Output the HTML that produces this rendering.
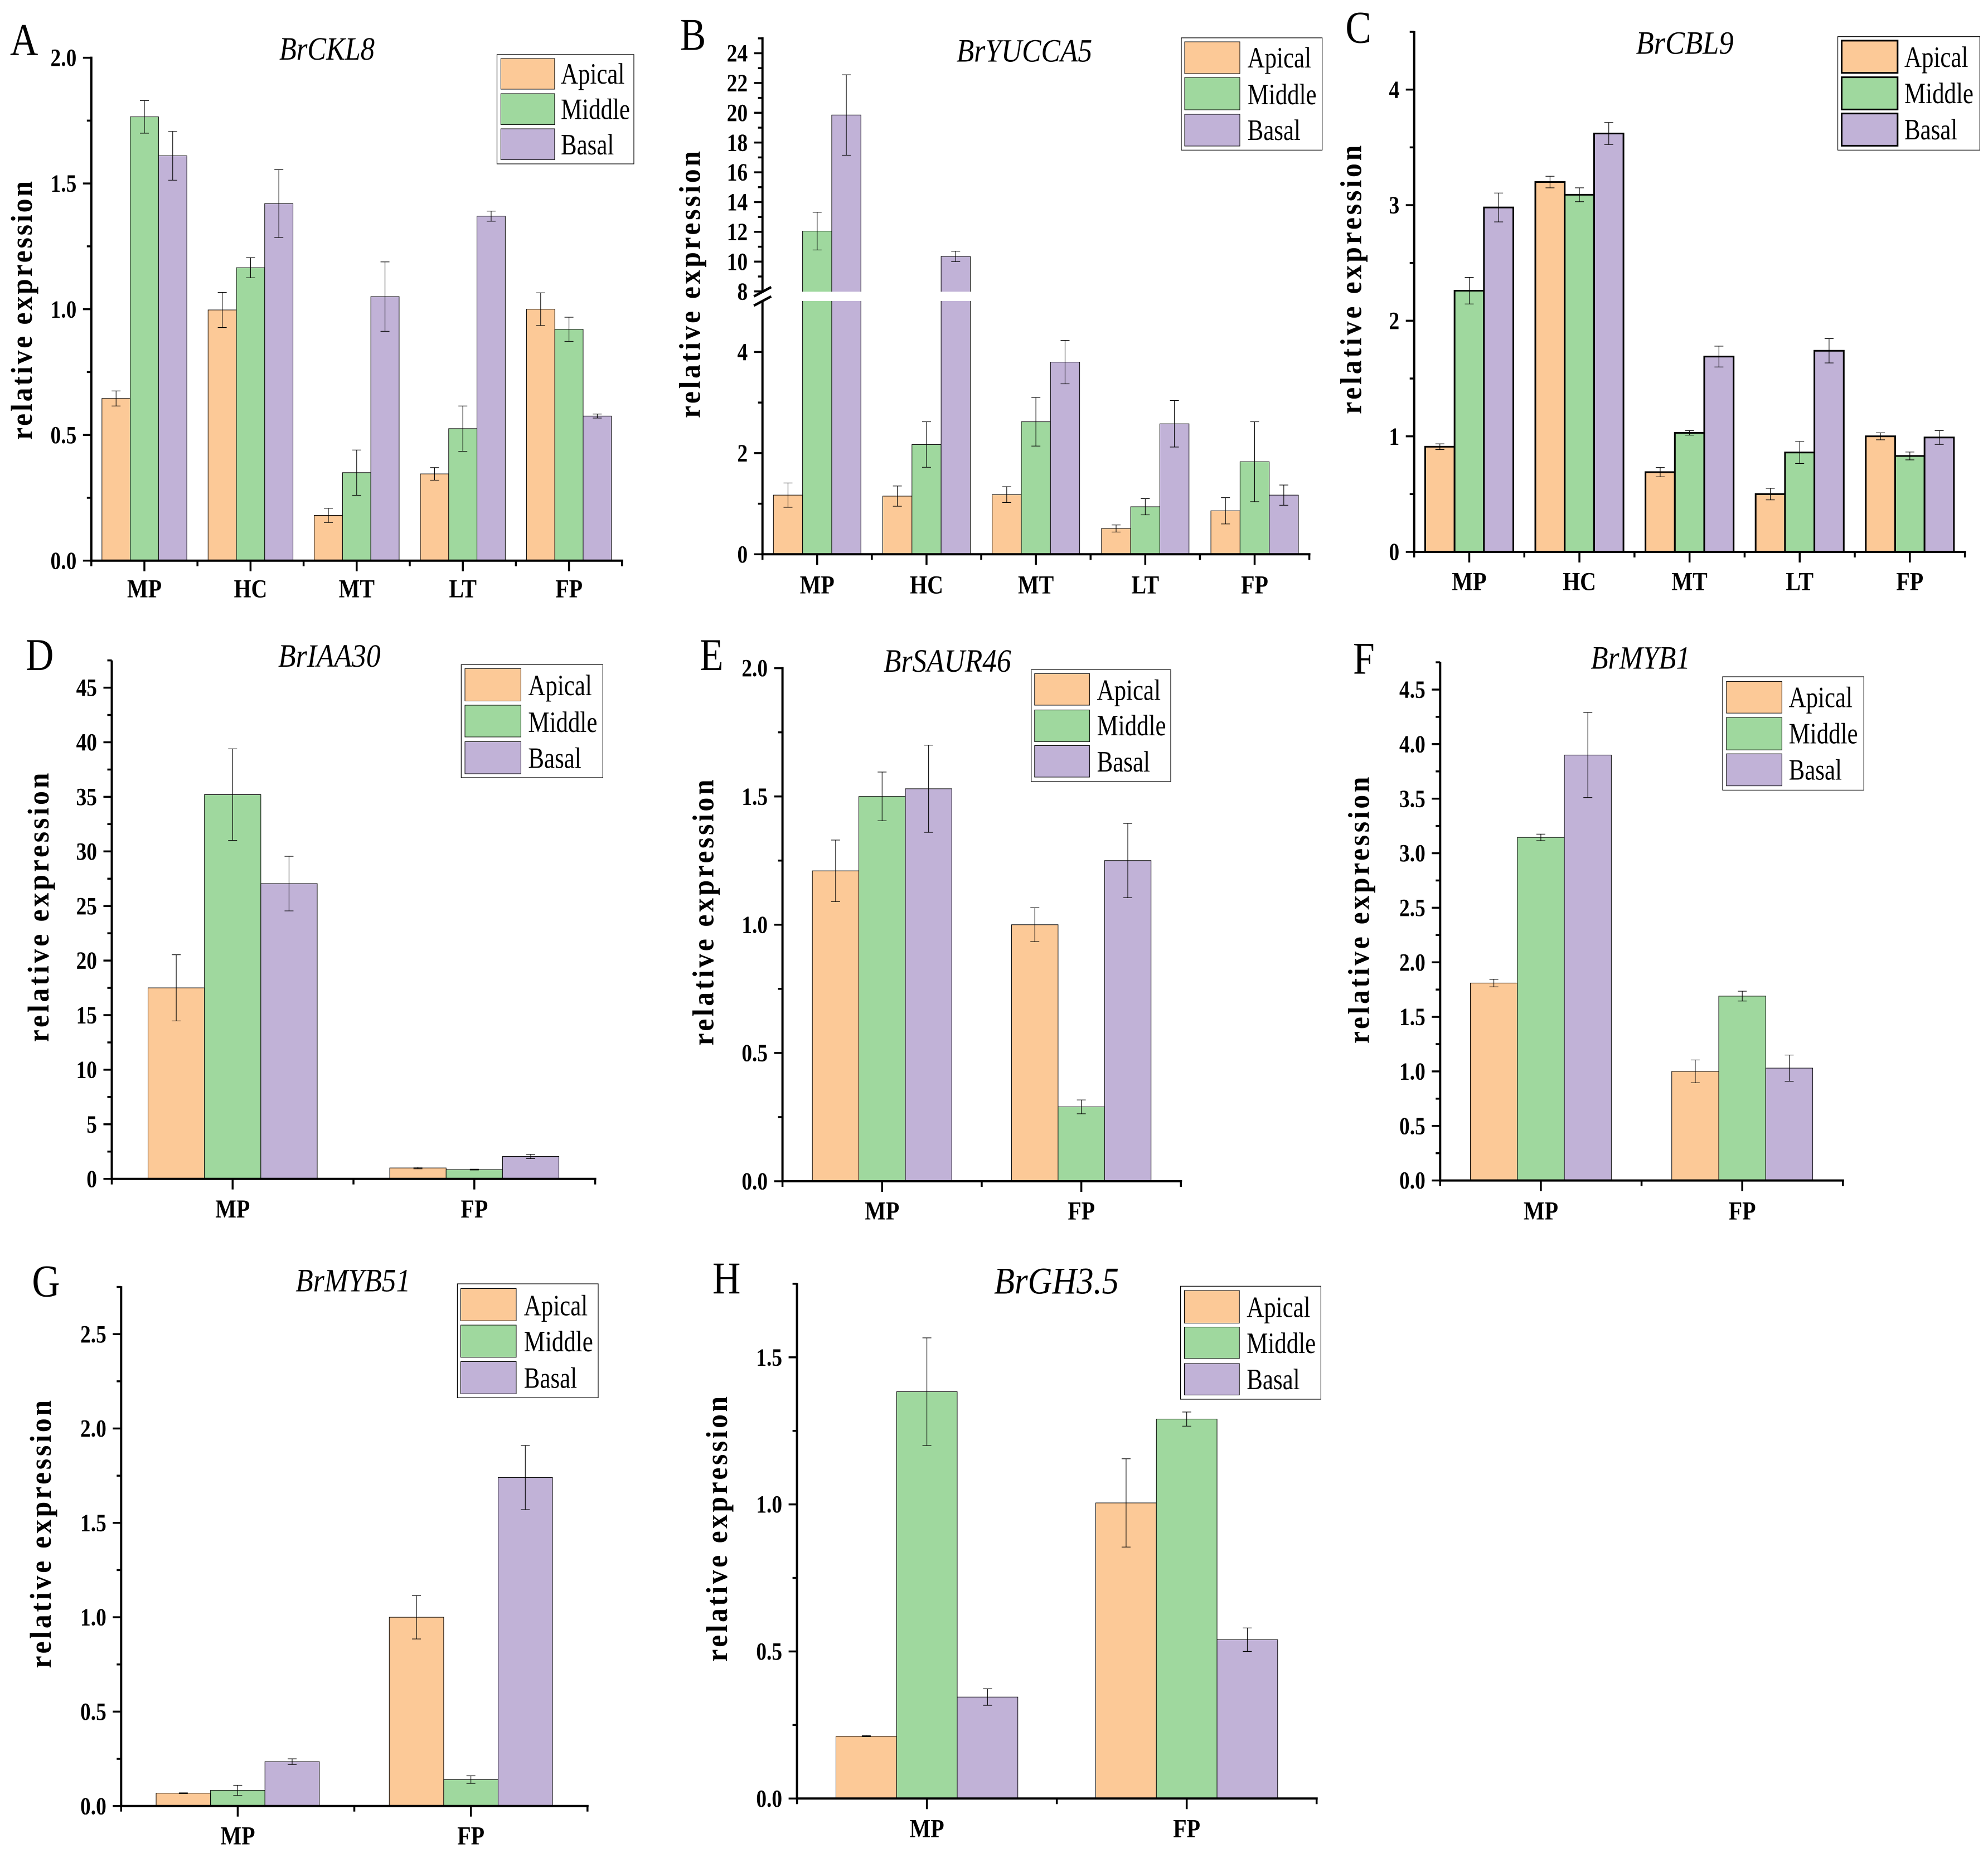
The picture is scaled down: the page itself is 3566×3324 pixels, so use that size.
<!DOCTYPE html>
<html lang="en">
<head>
<meta charset="utf-8">
<title>Relative expression of eight genes</title>
<style>
html,body{margin:0;padding:0;background:#fff;}
svg{display:block;font-family:"Liberation Serif",serif;}
</style>
</head>
<body>
<svg id="figure" xmlns="http://www.w3.org/2000/svg" width="3566" height="3324" viewBox="0 0 3566 3324">
<rect x="0" y="0" width="3566" height="3324" fill="#ffffff"/>
</svg>
<script>
const fiveCategories = ['MP', 'HC', 'MT', 'LT', 'FP'];
const twoCategories = ['MP', 'FP'];
const seriesNames = ['Apical', 'Middle', 'Basal'];

const aTicks = ['0.0', '0.5', '1.0', '1.5', '2.0'];
const aApical = [0.645, 0.997, 0.18, 0.345, 1.0];
const aMiddle = [1.765, 1.165, 0.35, 0.525, 0.92];
const aBasal = [1.61, 1.42, 1.05, 1.37, 0.575];
const aApicalErr = [0.03, 0.07, 0.028, 0.025, 0.065];
const aMiddleErr = [0.065, 0.04, 0.09, 0.09, 0.048];
const aBasalErr = [0.097, 0.135, 0.138, 0.02, 0.008];

const bTicks = ['0', '2', '4', '8', '10', '12', '14', '16', '18', '20', '22', '24'];
const bApical = [1.17, 1.15, 1.18, 0.51, 0.86];
const bMiddle = [12.05, 2.17, 2.62, 0.94, 1.83];
const bBasal = [19.85, 10.35, 3.8, 2.58, 1.17];
const bApicalErr = [0.24, 0.2, 0.157, 0.07, 0.26];
const bMiddleErr = [1.27, 0.45, 0.48, 0.16, 0.79];
const bBasalErr = [2.7, 0.35, 0.43, 0.46, 0.2];

const cTicks = ['0', '1', '2', '3', '4'];
const cApical = [0.91, 3.2, 0.69, 0.5, 1.0];
const cMiddle = [2.26, 3.09, 1.03, 0.86, 0.83];
const cBasal = [2.98, 3.62, 1.69, 1.74, 0.99];
const cApicalErr = [0.025, 0.05, 0.04, 0.05, 0.03];
const cMiddleErr = [0.115, 0.06, 0.02, 0.095, 0.034];
const cBasalErr = [0.125, 0.095, 0.09, 0.105, 0.06];

const dTicks = ['0', '5', '10', '15', '20', '25', '30', '35', '40', '45'];
const dApical = [17.5, 1.0];
const dMiddle = [35.2, 0.85];
const dBasal = [27.05, 2.05];
const dApicalErr = [3.03, 0.08];
const dMiddleErr = [4.2, 0.04];
const dBasalErr = [2.5, 0.2];

const eTicks = ['0.0', '0.5', '1.0', '1.5', '2.0'];
const eApical = [1.21, 1.0];
const eMiddle = [1.5, 0.29];
const eBasal = [1.53, 1.25];
const eApicalErr = [0.12, 0.066];
const eMiddleErr = [0.095, 0.027];
const eBasalErr = [0.17, 0.145];

const fTicks = ['0.0', '0.5', '1.0', '1.5', '2.0', '2.5', '3.0', '3.5', '4.0', '4.5'];
const fApical = [1.81, 1.0];
const fMiddle = [3.145, 1.69];
const fBasal = [3.9, 1.03];
const fApicalErr = [0.035, 0.105];
const fMiddleErr = [0.03, 0.045];
const fBasalErr = [0.39, 0.12];

const gTicks = ['0.0', '0.5', '1.0', '1.5', '2.0', '2.5'];
const gApical = [0.068, 1.0];
const gMiddle = [0.083, 0.14];
const gBasal = [0.235, 1.74];
const gApicalErr = [0.002, 0.115];
const gMiddleErr = [0.027, 0.02];
const gBasalErr = [0.015, 0.17];

const hTicks = ['0.0', '0.5', '1.0', '1.5'];
const hApical = [0.212, 1.005];
const hMiddle = [1.383, 1.29];
const hBasal = [0.345, 0.54];
const hApicalErr = [0.002, 0.15];
const hMiddleErr = [0.183, 0.024];
const hBasalErr = [0.028, 0.04];

const FILLS = ['#FCC997', '#9FD89E', '#C1B2D7'];
const NS = 'http://www.w3.org/2000/svg';
const root = document.getElementById('figure');

function make(parent, tag, attrs) {
  const node = document.createElementNS(NS, tag);
  for (const k in attrs) node.setAttribute(k, attrs[k]);
  parent.appendChild(node);
  return node;
}

function linearScale(v0, v1, p0, p1) {
  return function (v) { return p0 + (v - v0) / (v1 - v0) * (p1 - p0); };
}

function drawPanel(p) {
  const g = make(root, 'g', {});
  
  

  const y = p.yScale;
  const zero = y(0);
  const nCat = p.categories.length;
  const groupW = (p.right - p.left) / nCat;
  const barW = groupW * p.fillRatio / 3;
  const x = function (i) { return p.left + groupW * (i + 0.5); };

  // bars
  p.series.forEach(function (vals, s) {
    vals.forEach(function (v, i) {
      const top = y(v);
      const bar = make(g, 'rect', {
        x: x(i) + (s - 1.5) * barW, y: top, width: barW, height: zero - top,
        fill: FILLS[s], stroke: p.barStroke, 'stroke-width': p.barStrokeW
      });
      
      
    });
  });

  // axis-break band through bars
  if (p.breakBand) {
    const band = make(g, 'rect', {
      x: p.left + 3, y: p.breakBand[0], width: p.right - p.left, height: p.breakBand[1] - p.breakBand[0], fill: '#ffffff'
    });
    
    
  }

  // error bars
  p.series.forEach(function (vals, s) {
    vals.forEach(function (v, i) {
      const cx = x(i) + (s - 1) * barW;
      const e = p.errors[s][i];
      const hi = y(v + e), lo = y(v - e);
      const d = 'M' + cx + ' ' + hi + 'V' + lo + 'M' + (cx - 8) + ' ' + hi + 'H' + (cx + 8) + 'M' + (cx - 8) + ' ' + lo + 'H' + (cx + 8);
      const err = make(g, 'path', { d: d, fill: 'none', stroke: '#000', 'stroke-width': 1.1 });
      
      
    });
  });

  // y axis line(s)
  p.axisSegments.forEach(function (seg) {
    const axis = make(g, 'line', { x1: p.left, x2: p.left, y1: seg[0], y2: seg[1], stroke: '#000', 'stroke-width': 4 });
    
    
  });

  // y ticks and labels
  p.ticks.forEach(function (label) {
    const v = parseFloat(label);
    const py = y(v);
    const tick = make(g, 'line', { x1: p.left - 15, x2: p.left, y1: py, y2: py, stroke: '#000', 'stroke-width': 3.5 });
    
    
    const t = make(g, 'text', {
      transform: 'translate(' + (p.left - 26.5) + ',' + (py + 14.6) + ') scale(0.85,1)',
      'text-anchor': 'end', 'font-size': 44, 'font-weight': 'bold', fill: '#000'
    });
    t.textContent = label;
    
    
  });
  p.minorValues.forEach(function (v) {
    const py = y(v);
    const tick = make(g, 'line', { x1: p.left - 8, x2: p.left, y1: py, y2: py, stroke: '#000', 'stroke-width': 3.5 });
    
    
  });

  // x axis
  const xAxis = make(g, 'line', { x1: p.left - 2, x2: p.right + 2, y1: zero, y2: zero, stroke: '#000', 'stroke-width': 4 });
  
  
  for (let i = 0; i <= nCat; i++) {
    const bx = p.left + groupW * i;
    const minor = make(g, 'line', { x1: bx, x2: bx, y1: zero, y2: zero + 10, stroke: '#000', 'stroke-width': 3.5 });
    
    
  }
  p.categories.forEach(function (c, i) {
    const tick = make(g, 'line', { x1: x(i), x2: x(i), y1: zero, y2: zero + 19, stroke: '#000', 'stroke-width': 3.5 });
    
    
    const t = make(g, 'text', {
      transform: 'translate(' + x(i) + ',' + (zero + p.catOffset) + ') scale(0.85,1)',
      'text-anchor': 'middle', 'font-size': 47, 'font-weight': 'bold', fill: '#000'
    });
    t.textContent = c;
    
    
  });

  // break marks
  if (p.breakMarks) {
    p.breakMarks.forEach(function (m) {
      const mark = make(g, 'line', { x1: m[0], y1: m[1], x2: m[2], y2: m[3], stroke: '#000', 'stroke-width': 4.5 });
      
      
    });
  }

  // y axis title
  const yt = make(g, 'text', {
    transform: 'translate(' + p.yTitle[0] + ',' + p.yTitle[2] + ') rotate(-90) scale(0.92,1)',
    'font-size': 54, 'font-weight': 'bold', fill: '#000',
    textLength: (p.yTitle[2] - p.yTitle[1]) / 0.92, lengthAdjust: 'spacing'
  });
  yt.textContent = 'relative expression';
  
  

  // chart title
  const title = make(g, 'text', {
    x: p.title[0], y: p.title[1], 'font-size': p.titleSize, 'font-style': 'italic', fill: '#000',
    textLength: p.title[2], lengthAdjust: 'spacingAndGlyphs'
  });
  title.textContent = p.gene;
  
  

  // panel letter
  const letter = make(g, 'text', {
    transform: 'translate(' + p.letterPos[0] + ',' + p.letterPos[1] + ') scale(0.85,1)',
    'font-size': 82, fill: '#000'
  });
  letter.textContent = p.letter;
  
  

  // legend
  const lg = make(g, 'g', {});
  
  
  const box = make(lg, 'rect', {
    x: p.legend.box[0], y: p.legend.box[1], width: p.legend.box[2] - p.legend.box[0], height: p.legend.box[3] - p.legend.box[1],
    fill: '#ffffff', stroke: '#000', 'stroke-width': 1.2
  });
  
  
  seriesNames.forEach(function (name, s) {
    const row = p.legend.rows[s];
    const swatch = make(lg, 'rect', {
      x: p.legend.swatch[0], y: row[0], width: p.legend.swatch[1] - p.legend.swatch[0], height: row[1] - row[0],
      fill: FILLS[s], stroke: p.barStroke, 'stroke-width': p.barStrokeW
    });
    
    
    const t = make(lg, 'text', {
      transform: 'translate(' + p.legend.textX + ',' + row[2] + ') scale(0.81,1)',
      'font-size': 53, fill: '#000'
    });
    t.textContent = name;
    
    
  });
}

drawPanel({
  letter: 'A', gene: 'BrCKL8', categories: fiveCategories,
  series: [aApical, aMiddle, aBasal], errors: [aApicalErr, aMiddleErr, aBasalErr],
  ticks: aTicks, minorValues: [0.25, 0.75, 1.25, 1.75],
  yScale: linearScale(0, 2, 1005.7, 103.6), left: 163.8, right: 1115.8, fillRatio: 0.8,
  axisSegments: [[101.6, 1007.7]], barStroke: '#000', barStrokeW: 1, catOffset: 66,
  yTitle: [57, 325, 789], title: [501, 107, 171], titleSize: 58, letterPos: [18, 98.3],
  legend: { box: [891.5, 97.9, 1137, 294], swatch: [898.4, 994.9], textX: 1006,
    rows: [[105, 160, 150], [168, 223.6, 213.3], [231, 286.4, 277]] }
});

function bScale(v) {
  return v <= 5 ? 994.3 + (v / 5) * (540.7 - 994.3) : 522.7 + ((v - 8) / 17) * (68.8 - 522.7);
}
drawPanel({
  letter: 'B', gene: 'BrYUCCA5', categories: fiveCategories,
  series: [bApical, bMiddle, bBasal], errors: [bApicalErr, bMiddleErr, bBasalErr],
  ticks: bTicks, minorValues: [1, 3, 9, 11, 13, 15, 17, 19, 21, 23, 25],
  yScale: bScale, left: 1367.7, right: 2348.6, fillRatio: 0.8,
  axisSegments: [[66.8, 523.3], [540, 996.3]], barStroke: '#000', barStrokeW: 1, catOffset: 70,
  breakBand: [523.3, 540],
  breakMarks: [[1352.3, 531.7, 1383.3, 515], [1352.3, 548.3, 1383.3, 531.7]],
  yTitle: [1255.5, 271, 750], title: [1715.7, 110.7, 243.4], titleSize: 58, letterPos: [1219.8, 89.3],
  legend: { box: [2119, 67.9, 2371.6, 269.3], swatch: [2125, 2224], textX: 2237.6,
    rows: [[75, 132, 121], [139, 197, 187], [205, 262, 251]] }
});

drawPanel({
  letter: 'C', gene: 'BrCBL9', categories: fiveCategories,
  series: [cApical, cMiddle, cBasal], errors: [cApicalErr, cMiddleErr, cBasalErr],
  ticks: cTicks, minorValues: [0.5, 1.5, 2.5, 3.5, 4.5],
  yScale: linearScale(0, 4, 990, 160.7), left: 2536.7, right: 3524.6, fillRatio: 0.8,
  axisSegments: [[55.7, 992]], barStroke: '#000', barStrokeW: 3, catOffset: 68.6,
  yTitle: [2441.5, 260.7, 742.9], title: [2934.6, 96.4, 175], titleSize: 58, letterPos: [2413.4, 76.4],
  legend: { box: [3296.6, 65.7, 3551.4, 269.3], swatch: [3303.5, 3403.8], textX: 3416,
    rows: [[72.9, 130.7, 120], [138.6, 196.4, 185], [203.6, 261.4, 250]] }
});

drawPanel({
  letter: 'D', gene: 'BrIAA30', categories: twoCategories,
  series: [dApical, dMiddle, dBasal], errors: [dApicalErr, dMiddleErr, dBasalErr],
  ticks: dTicks, minorValues: [2.5, 7.5, 12.5, 17.5, 22.5, 27.5, 32.5, 37.5, 42.5, 47.5],
  yScale: linearScale(0, 45, 2114.7, 1233.6), left: 200.5, right: 1067.6, fillRatio: 0.7,
  axisSegments: [[1184.6, 2116.7]], barStroke: '#000', barStrokeW: 1, catOffset: 69.5,
  yTitle: [87, 1386.6, 1869.2], title: [499, 1195.8, 183.7], titleSize: 58, letterPos: [46, 1202],
  legend: { box: [827.3, 1192.3, 1081.4, 1395], swatch: [834, 934.4], textX: 947.4,
    rows: [[1199.3, 1257.5, 1247], [1265, 1322, 1313], [1330.5, 1388, 1377.5]] }
});

drawPanel({
  letter: 'E', gene: 'BrSAUR46', categories: twoCategories,
  series: [eApical, eMiddle, eBasal], errors: [eApicalErr, eMiddleErr, eBasalErr],
  ticks: eTicks, minorValues: [0.25, 0.75, 1.25, 1.75],
  yScale: linearScale(0, 2, 2119, 1198.6), left: 1403.6, right: 2118.3, fillRatio: 0.7,
  axisSegments: [[1196.6, 2121]], barStroke: '#000', barStrokeW: 1, catOffset: 68.7,
  yTitle: [1279.4, 1398.5, 1875.5], title: [1585, 1204.9, 228.8], titleSize: 58, letterPos: [1255, 1202],
  legend: { box: [1849.7, 1201.4, 2100, 1402], swatch: [1855.8, 1954.6], textX: 1967.6,
    rows: [[1208.4, 1265, 1255.4], [1273.6, 1330.4, 1319.2], [1337.5, 1394, 1383.8]] }
});

drawPanel({
  letter: 'F', gene: 'BrMYB1', categories: twoCategories,
  series: [fApical, fMiddle, fBasal], errors: [fApicalErr, fMiddleErr, fBasalErr],
  ticks: fTicks, minorValues: [0.25, 0.75, 1.25, 1.75, 2.25, 2.75, 3.25, 3.75, 4.25, 4.75],
  yScale: linearScale(0, 4.5, 2117.6, 1237), left: 2583.3, right: 3305.8, fillRatio: 0.7,
  axisSegments: [[1188, 2119.6]], barStroke: '#000', barStrokeW: 1, catOffset: 70,
  yTitle: [2455.3, 1393.6, 1872], title: [2853.5, 1199.3, 178.3], titleSize: 58, letterPos: [2427, 1208.4],
  legend: { box: [3090, 1214, 3343.3, 1417.4], swatch: [3096.8, 3196.3], textX: 3208.6,
    rows: [[1222.4, 1279.2, 1268.7], [1287, 1345.2, 1333.3], [1352.2, 1409.7, 1398.5]] }
});

drawPanel({
  letter: 'G', gene: 'BrMYB51', categories: twoCategories,
  series: [gApical, gMiddle, gBasal], errors: [gApicalErr, gMiddleErr, gBasalErr],
  ticks: gTicks, minorValues: [0.25, 0.75, 1.25, 1.75, 2.25, 2.75],
  yScale: linearScale(0, 2.5, 3239.7, 2393.2), left: 217.3, right: 1053.8, fillRatio: 0.7,
  axisSegments: [[2307.3, 3241.7]], barStroke: '#000', barStrokeW: 1, catOffset: 69,
  yTitle: [90.8, 2512, 2992.5], title: [530.3, 2316.5, 205.9], titleSize: 58, letterPos: [57.4, 2325.6],
  legend: { box: [820.4, 2303, 1073, 2507.3], swatch: [826.5, 926], textX: 939.8,
    rows: [[2311.5, 2369.3, 2359.4], [2377, 2434.8, 2424.2], [2442.5, 2500.3, 2489.7]] }
});

drawPanel({
  letter: 'H', gene: 'BrGH3.5', categories: twoCategories,
  series: [hApical, hMiddle, hBasal], errors: [hApicalErr, hMiddleErr, hBasalErr],
  ticks: hTicks, minorValues: [0.25, 0.75, 1.25, 1.75],
  yScale: linearScale(0, 1.5, 3226.3, 2434.8), left: 1429.6, right: 2361.7, fillRatio: 0.7,
  axisSegments: [[2301.7, 3228.3]], barStroke: '#000', barStrokeW: 1, catOffset: 69,
  yTitle: [1303.8, 2505, 2980.6], title: [1783, 2320.7, 224], titleSize: 68, letterPos: [1278, 2320],
  legend: { box: [2117.6, 2307.3, 2369.4, 2510], swatch: [2124.5, 2223.2], textX: 2236.2,
    rows: [[2315, 2373.5, 2362.3], [2380.6, 2437, 2427], [2446, 2502.4, 2491.8]] }
});
</script>
</body>
</html>
